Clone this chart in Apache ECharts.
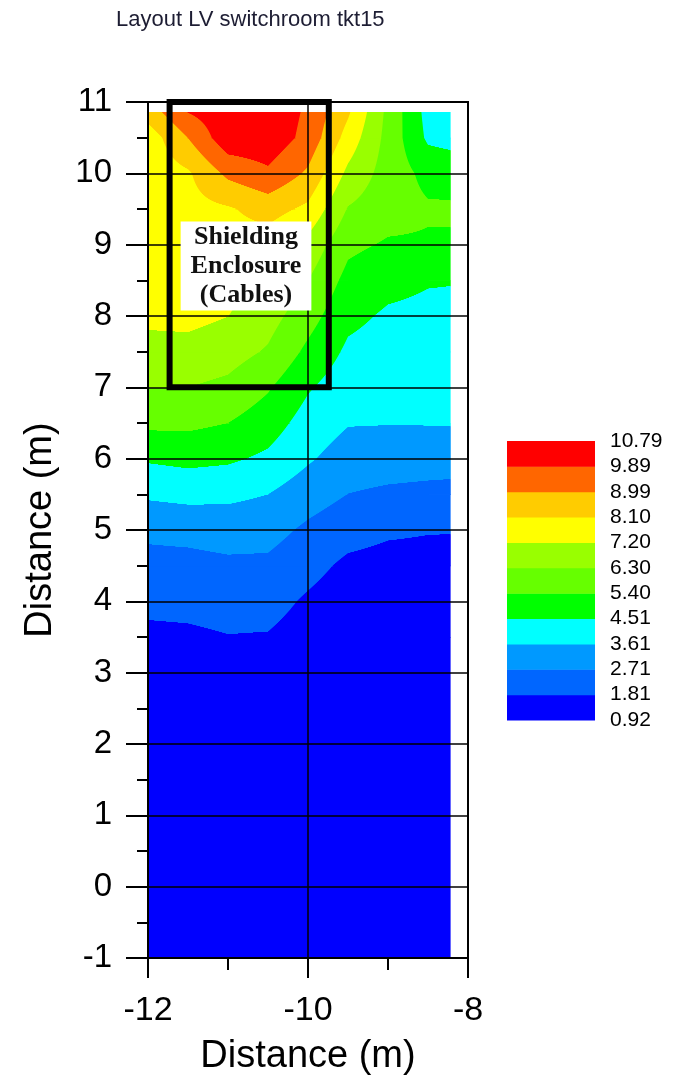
<!DOCTYPE html>
<html><head><meta charset="utf-8">
<script src="https://cdn.jsdelivr.net/npm/echarts@6/dist/echarts.min.js"></script>
<style>html,body{margin:0;padding:0;background:#fff}#c{width:693px;height:1081px}</style>
</head><body><div id="c"></div>
<script>
// ---------------- data ----------------
const chartTitle = 'Layout LV switchroom tkt15';
const axisName = 'Distance (m)';
// grid node positions (m)
const xNodes = [-12, -11.5, -11, -10.5, -10, -9.5, -9, -8.5, -8.225];
const yNodes = [-1, 3, 3.5, 4, 4.5, 5, 5.5, 6, 6.5, 7, 7.5, 8, 8.5, 9, 9.5, 10, 10.5, 10.86];
// values per row (one array per y node, ordered by xNodes)
const row_m1_0  = [1.0, 1.0, 1.0, 1.0, 1.0, 1.0, 1.0, 1.0, 1.0];
const row_3_0   = [1.3, 1.3, 1.35, 1.35, 1.2, 1.1, 1.1, 1.1, 1.1];
const row_3_5   = [1.6, 1.65, 1.78, 1.75, 1.4, 1.2, 1.2, 1.2, 1.2];
const row_4_0   = [2.04, 2.07, 2.16, 2.14, 1.68, 1.3, 1.25, 1.25, 1.25];
const row_4_5   = [2.42, 2.44, 2.54, 2.53, 2.11, 1.62, 1.5, 1.5, 1.5];
const row_5_0   = [2.9, 2.97, 3.09, 3.03, 2.54, 2.16, 1.94, 1.86, 1.85];
const row_5_5   = [3.75, 3.87, 3.81, 3.61, 3.11, 2.7, 2.55, 2.47, 2.44];
const row_6_0   = [4.62, 4.75, 4.65, 4.34, 3.72, 3.19, 3.13, 3.09, 3.07];
const row_6_5   = [5.6, 5.6, 5.4, 4.93, 4.14, 3.66, 3.64, 3.65, 3.66];
const row_7_0   = [6.3, 6.3, 6.09, 5.49, 4.6, 4.0, 3.89, 3.87, 3.88];
const row_7_5   = [6.86, 6.9, 6.68, 6.2, 5.2, 4.35, 4.14, 4.09, 4.1];
const row_8_0   = [7.42, 7.45, 7.21, 6.66, 5.76, 4.73, 4.39, 4.31, 4.3];
const row_8_5   = [7.45, 7.5, 7.5, 7.12, 6.3, 5.13, 4.76, 4.57, 4.55];
const row_9_0   = [7.48, 7.6, 7.75, 7.66, 6.91, 5.6, 5.3, 5.3, 5.3];
const row_9_5   = [7.5, 7.79, 8.0, 8.45, 7.91, 6.24, 5.75, 5.5, 5.5];
const row_10_0  = [7.53, 7.98, 9.2, 9.73, 8.85, 6.99, 5.9, 5.15, 5.1];
const row_10_5  = [7.6, 9.0, 10.5, 10.5, 9.6, 7.75, 6.0, 4.35, 4.2];
const row_10_86 = [8.5, 9.92, 10.5, 10.6, 9.73, 8.23, 6.07, 4.2, 4.1];
// contour levels, their labels and band colours
const levels = [0.92, 1.81, 2.71, 3.61, 4.51, 5.40, 6.30, 7.20, 8.10, 8.99, 9.89, 10.79];
const levelLabels = ['0.92', '1.81', '2.71', '3.61', '4.51', '5.40', '6.30', '7.20', '8.10', '8.99', '9.89', '10.79'];
const bandColors = ['#0000FF', '#0066FF', '#0099FF', '#00FFFF', '#00FF00', '#66FF00', '#99FF00', '#FFFF00', '#FFCC00', '#FF6600', '#FF0000'];
// annotation: shielding enclosure outline and its note
const enclosureX = [-11.73, -9.74, -9.74, -11.73, -11.73];
const enclosureY = [11, 11, 7, 7, 11];
const noteText = 'Shielding\nEnclosure\n(Cables)';
const notePos = [-10.775, 8.70];
const xTicks = { min: -12, max: -8, step: 2 };
const yTicks = { min: -1, max: 11, step: 1 };

// ---------------- build ----------------
const rows = [row_m1_0, row_3_0, row_3_5, row_4_0, row_4_5, row_5_0, row_5_5, row_6_0, row_6_5, row_7_0,
  row_7_5, row_8_0, row_8_5, row_9_0, row_9_5, row_10_0, row_10_5, row_10_86];

function bandOf(v) {
  let b = 0;
  for (let k = 1; k < levels.length - 1; k++) if (v >= levels[k]) b = k;
  return b;
}
function rect(x, y, w, h, band) {
  return { type: 'rect', silent: true, shape: { x: x, y: y, width: w, height: h }, style: { fill: bandColors[band] } };
}
const cells = [];
for (let j = 0; j < yNodes.length - 1; j++) {
  for (let i = 0; i < xNodes.length - 1; i++) {
    cells.push([(xNodes[i] + xNodes[i + 1]) / 2, (yNodes[j] + yNodes[j + 1]) / 2, i, j]);
  }
}
function renderCell(params, api) {
  const i = api.value(2), j = api.value(3);
  const a = api.coord([xNodes[i], yNodes[j]]);
  const b = api.coord([xNodes[i + 1], yNodes[j + 1]]);
  const L = a[0], R = b[0], B = a[1], T = b[1];
  const v00 = rows[j][i], v10 = rows[j][i + 1], v01 = rows[j + 1][i], v11 = rows[j + 1][i + 1];
  const children = [];
  const bs = [v00, v10, v01, v11].map(bandOf);
  if (bs.every(x => x === bs[0])) {
    children.push(rect(L, T, R - L + 0.6, B - T + 0.6, bs[0]));
    return { type: 'group', children: children };
  }
  const top = Math.floor(T), bot = Math.ceil(B);
  for (let py = top; py < bot; py++) {
    const ya = Math.max(py, T), yb = Math.min(py + 1, B);
    if (yb <= ya) continue;
    const t = (B - (ya + yb) / 2) / (B - T);
    const vl = v00 + (v01 - v00) * t, vr = v10 + (v11 - v10) * t;
    const cb = bandOf(vl), eb = bandOf(vr);
    const pts = [];
    if (eb > cb) { for (let k = cb + 1; k <= eb; k++) pts.push([(levels[k] - vl) / (vr - vl), k]); }
    else if (eb < cb) { for (let k = cb; k > eb; k--) pts.push([(levels[k] - vl) / (vr - vl), k - 1]); }
    let sx = L, band = cb;
    for (const p of pts) {
      const ex = L + (R - L) * p[0];
      children.push(rect(sx, ya, ex - sx + 0.6, yb - ya + 0.6, band));
      sx = ex; band = p[1];
    }
    children.push(rect(sx, ya, R - sx + 0.6, yb - ya + 0.6, band));
  }
  return { type: 'group', children: children };
}

// legend (colour bar)
const barLeft = 507, barTop = 441, barW = 88, barH = 279;
const legendGraphics = [];
const nb = bandColors.length;
for (let k = 0; k < nb; k++) {
  const h = barH / nb;
  legendGraphics.push({ type: 'rect', left: barLeft, top: barTop + barH - (k + 1) * h, shape: { width: barW, height: h + 0.5 }, style: { fill: bandColors[k] }, silent: true });
}
for (let k = 0; k < levelLabels.length; k++) {
  legendGraphics.push({ type: 'text', x: 610, y: barTop + barH - k * barH / nb, style: { text: levelLabels[k], fill: '#000', font: '21px "Liberation Sans", Arial, sans-serif', textVerticalAlign: 'middle', textAlign: 'left' }, silent: true });
}
// note box (text over the enclosure)
const noteGraphic = {
  type: 'text', z: 100, silent: true,
  style: { text: noteText, font: 'bold 26px "Liberation Serif", "Times New Roman", serif', fill: '#111', lineHeight: 29,
    backgroundColor: '#fff', padding: [1, 10, 1, 10], align: 'center', verticalAlign: 'middle' }
};

const FONT = '"Liberation Sans", Arial, sans-serif';
const chart = echarts.init(document.getElementById('c'), null, { renderer: 'canvas' });
chart.setOption({
  animation: false,
  backgroundColor: '#fff',
  title: { text: chartTitle, left: 111, top: 4, textStyle: { fontSize: 22, fontWeight: 'normal', color: '#1d1d33', fontFamily: FONT } },
  grid: { left: 148, right: 225, top: 102, bottom: 123, show: true, borderColor: '#000', borderWidth: 2, backgroundColor: 'transparent', z: 10 },
  xAxis: {
    type: 'value', min: xTicks.min, max: xTicks.max, interval: xTicks.step,
    name: axisName, nameLocation: 'middle', nameGap: 80,
    nameTextStyle: { fontSize: 38, color: '#000', fontFamily: FONT },
    axisLine: { show: true, onZero: false, lineStyle: { color: '#000', width: 2 } },
    axisTick: { show: true, length: 20, lineStyle: { color: '#000', width: 2 } },
    minorTick: { show: true, splitNumber: 2, length: 12, lineStyle: { color: '#000', width: 2 } },
    splitLine: { show: true, lineStyle: { color: '#000', width: 1.5 } },
    axisLabel: { fontSize: 34, color: '#000', margin: 36, fontFamily: FONT },
    z: 10
  },
  yAxis: {
    type: 'value', min: yTicks.min, max: yTicks.max, interval: yTicks.step,
    name: axisName, nameLocation: 'middle', nameGap: 88,
    nameTextStyle: { fontSize: 38, color: '#000', fontFamily: FONT },
    axisLine: { show: true, onZero: false, lineStyle: { color: '#000', width: 2 } },
    axisTick: { show: true, length: 22, lineStyle: { color: '#000', width: 2 } },
    minorTick: { show: true, splitNumber: 2, length: 11, lineStyle: { color: '#000', width: 2 } },
    splitLine: { show: true, lineStyle: { color: '#000', width: 1.5 } },
    axisLabel: { fontSize: 33, color: '#000', margin: 36, fontFamily: FONT },
    z: 10
  },
  graphic: legendGraphics,
  series: [
    { type: 'custom', coordinateSystem: 'cartesian2d', data: cells, renderItem: renderCell, silent: true, clip: true, z: 1,
      encode: { x: 0, y: 1 } },
    { type: 'line', data: enclosureX.map((x, k) => [x, enclosureY[k]]), symbol: 'none', silent: true, clip: false, z: 20,
      lineStyle: { color: '#000', width: 6, cap: 'square', join: 'miter' } }
  ]
});
// place the note at its data position
const np = chart.convertToPixel({ gridIndex: 0 }, notePos);
noteGraphic.x = np[0]; noteGraphic.y = np[1];
chart.setOption({ graphic: legendGraphics.concat([noteGraphic]) });
</script></body></html>
